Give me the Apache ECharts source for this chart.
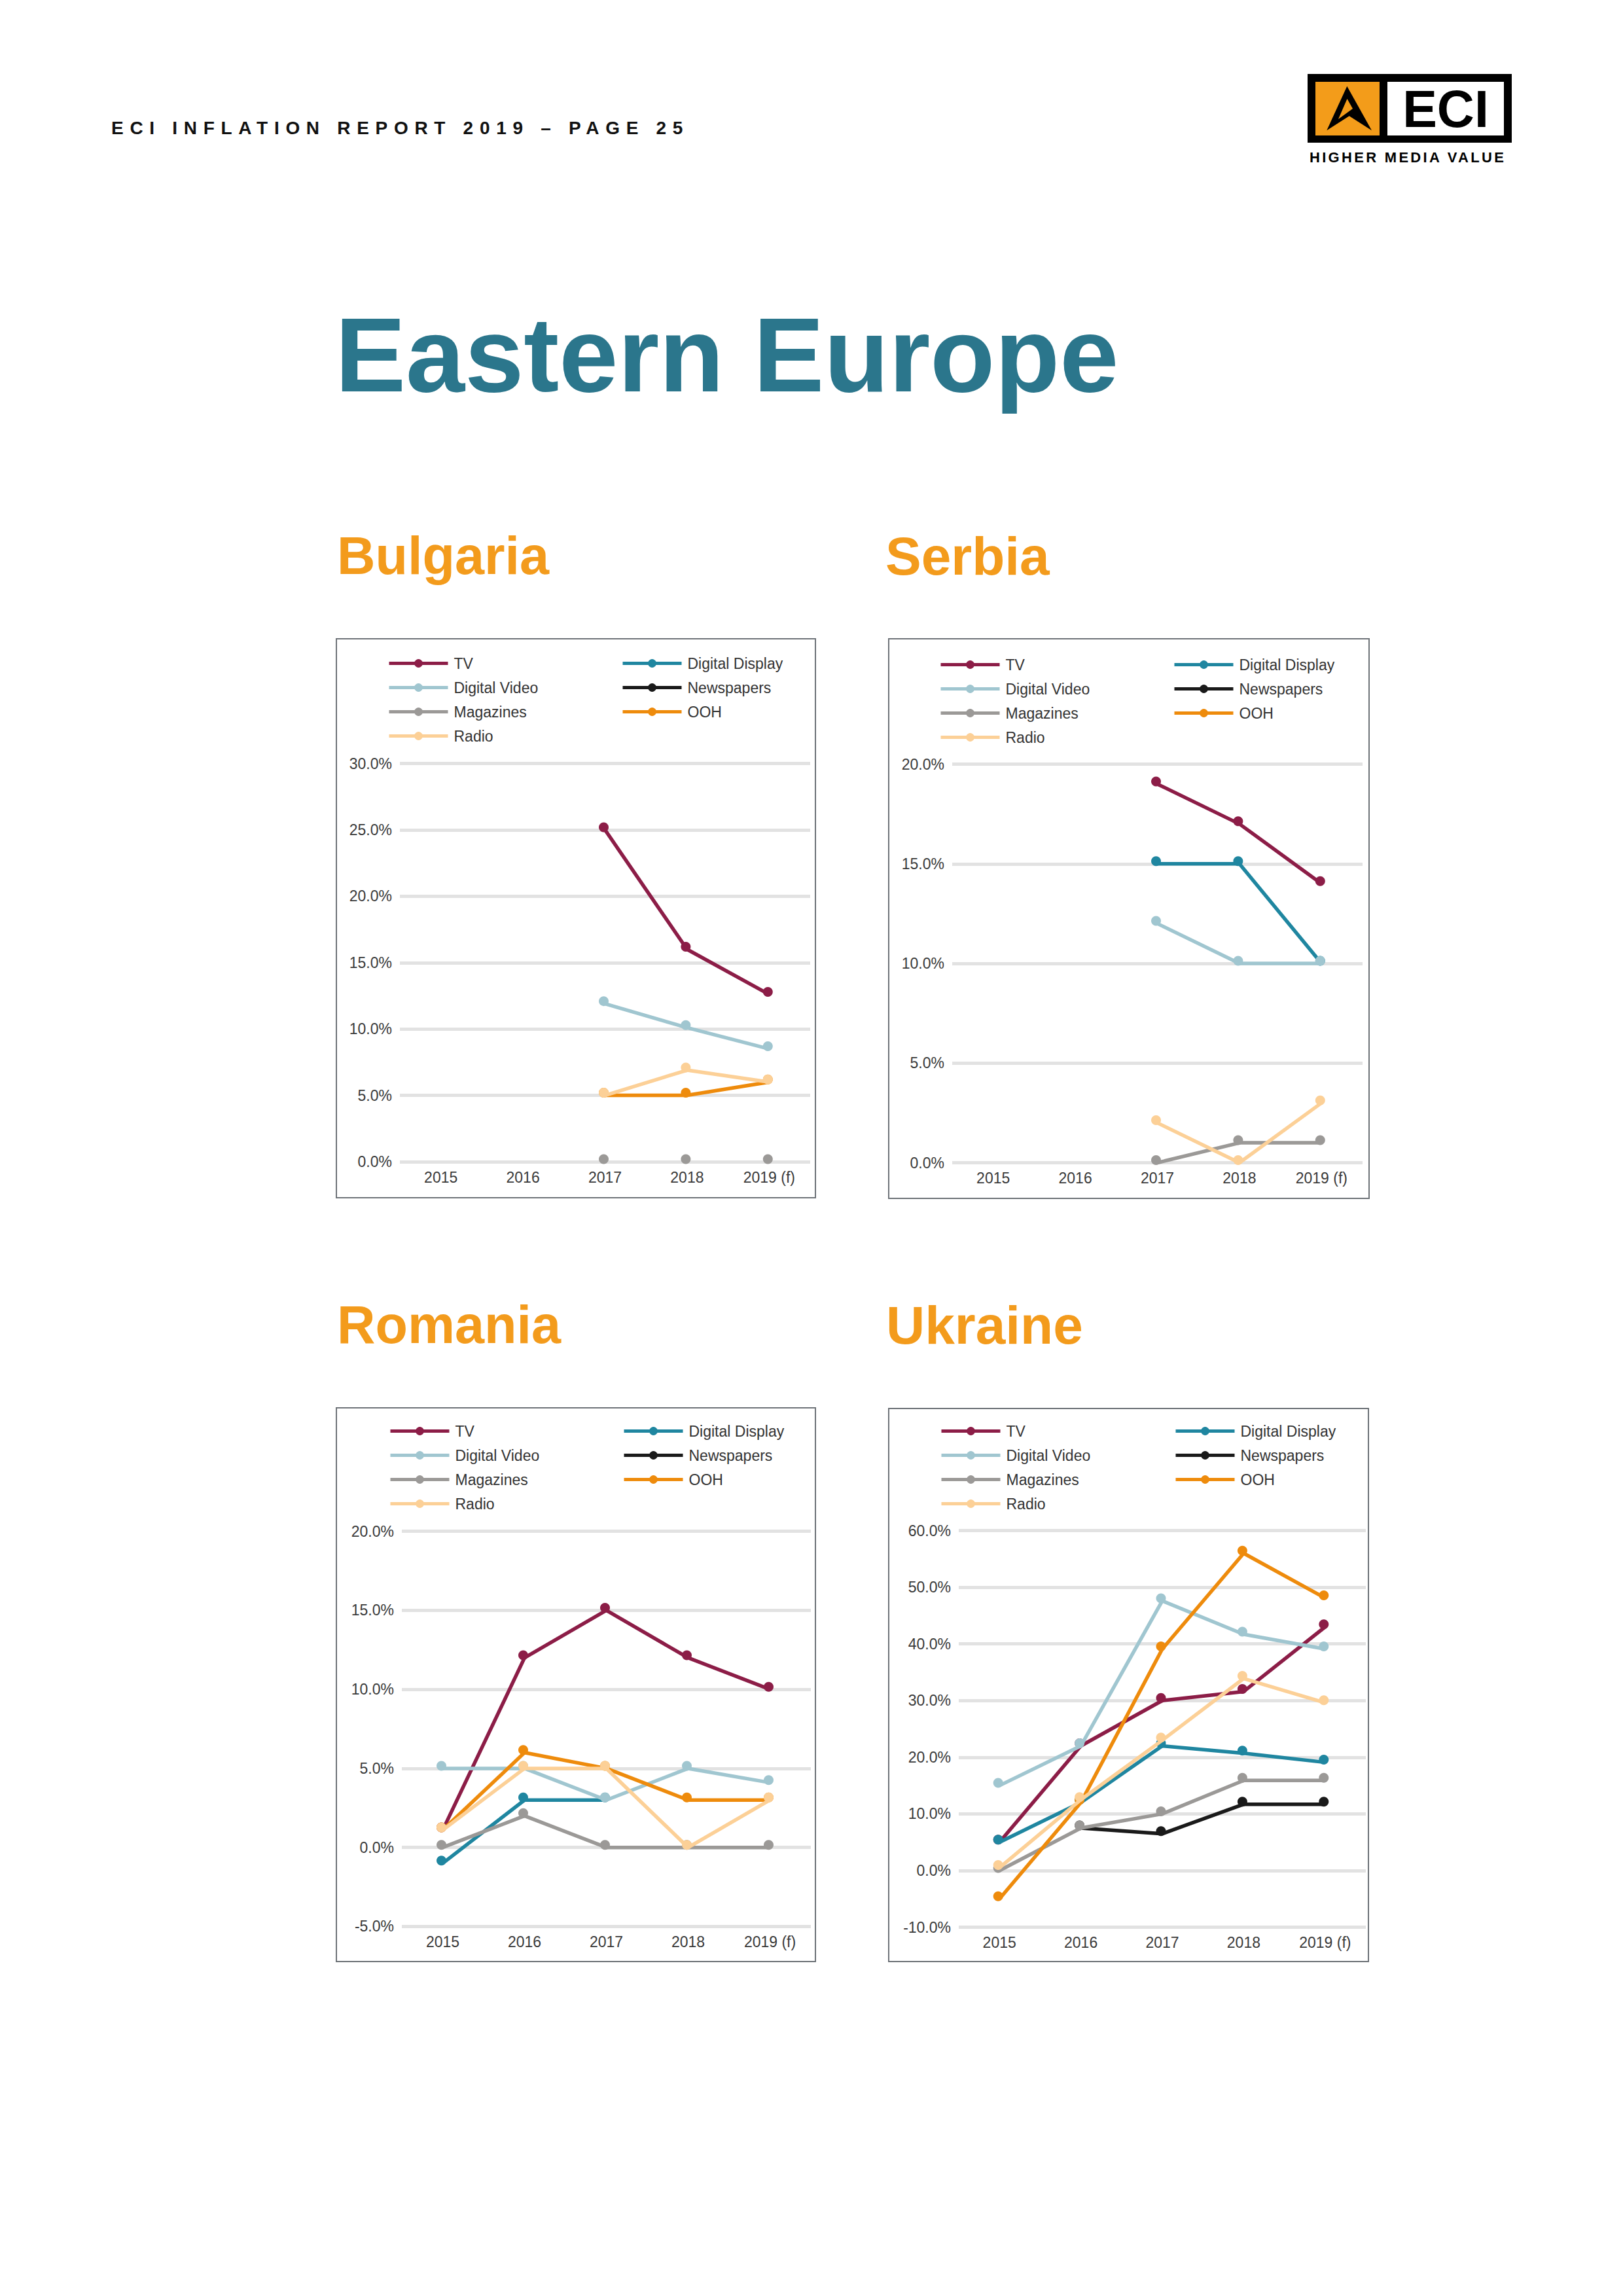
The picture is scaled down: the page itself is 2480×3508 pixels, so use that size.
<!DOCTYPE html>
<html>
<head>
<meta charset="utf-8">
<script src="https://cdn.jsdelivr.net/npm/echarts@6/dist/echarts.min.js"></script>
<style>
  html, body { margin: 0; padding: 0; background: #ffffff; }
  #page { position: relative; width: 2480px; height: 3508px; background: #ffffff; overflow: hidden; }
  #chart { position: absolute; left: 0; top: 0; width: 2480px; height: 3508px; }
  .txt { position: absolute; white-space: nowrap; font-family: 'Liberation Sans', Arial, sans-serif; font-weight: bold; line-height: 1; }
</style>
</head>
<body>
<div id="page">
  <div id="chart"></div>

  <div class="txt" style="left:170px;top:182px;font-size:28px;letter-spacing:9.7px;color:#111111;">ECI INFLATION REPORT 2019 – PAGE 25</div>

  <!-- logo -->
  <div style="position:absolute;left:1998px;top:113px;width:312px;height:105px;background:#000000;"></div>
  <div style="position:absolute;left:2010px;top:125px;width:98px;height:82px;background:#F39C1A;">
    <svg width="98" height="82" viewBox="0 0 98 82" style="position:absolute;left:0;top:0">
      <path fill="#000000" fill-rule="evenodd" d="M48.3 6.7 L86 74.3 L51.7 52.3 L17.3 74.3 Z M48.5 26 L57 41 L35 57 Z"/>
    </svg>
  </div>
  <div style="position:absolute;left:2120px;top:125px;width:178px;height:82px;background:#ffffff;"></div>
  <div class="txt" style="left:2120px;width:178px;text-align:center;top:127px;font-size:79px;color:#000000;">ECI</div>
  <div class="txt" style="left:2001px;top:230px;font-size:22px;letter-spacing:3.3px;color:#000000;">HIGHER MEDIA VALUE</div>

  <div class="txt" style="left:512px;top:461px;font-size:162px;color:#2B768C;">Eastern Europe</div>

  <div class="txt" style="left:515px;top:809px;font-size:81px;color:#F39B1C;">Bulgaria</div>
  <div class="txt" style="left:1353px;top:809px;font-size:82px;color:#F39B1C;">Serbia</div>
  <div class="txt" style="left:515px;top:1984px;font-size:81px;color:#F39B1C;">Romania</div>
  <div class="txt" style="left:1354px;top:1984px;font-size:82px;color:#F39B1C;">Ukraine</div>
</div>

<script>
// ---------------- DATA ----------------
const years = ['2015', '2016', '2017', '2018', '2019 (f)'];
const mediaNames = ['TV', 'Digital Display', 'Digital Video', 'Newspapers', 'Magazines', 'OOH', 'Radio'];

// Bulgaria (%)
const bgTV             = [null, null, 25.0, 16.0, 12.6];
const bgDigitalDisplay = [null, null, null, null, null];
const bgDigitalVideo   = [null, null, 11.9, 10.1, 8.5];
const bgNewspapers     = [null, null, null, null, null];
const bgMagazines      = [null, null, 0.0, 0.0, 0.0];
const bgOOH            = [null, null, 5.0, 5.0, 6.0];
const bgRadio          = [null, null, 5.0, 6.9, 6.0];

// Serbia (%)
const rsTV             = [null, null, 19.0, 17.0, 14.0];
const rsDigitalDisplay = [null, null, 15.0, 15.0, 10.0];
const rsDigitalVideo   = [null, null, 12.0, 10.0, 10.0];
const rsNewspapers     = [null, null, null, null, null];
const rsMagazines      = [null, null, 0.0, 1.0, 1.0];
const rsOOH            = [null, null, null, null, null];
const rsRadio          = [null, null, 2.0, 0.0, 3.0];

// Romania (%)
const roTV             = [1.1, 12.0, 15.0, 12.0, 10.0];
const roDigitalDisplay = [-1.0, 3.0, 3.0, null, null];
const roDigitalVideo   = [5.0, 5.0, 3.0, 5.0, 4.1];
const roNewspapers     = [null, null, null, null, null];
const roMagazines      = [0.0, 2.0, 0.0, 0.0, 0.0];
const roOOH            = [1.1, 6.0, 5.0, 3.0, 3.0];
const roRadio          = [1.1, 5.0, 5.0, 0.0, 3.0];

// Ukraine (%)
const uaTV             = [5.0, 22.0, 30.0, 31.6, 43.0];
const uaDigitalDisplay = [5.0, 12.0, 22.0, 20.7, 19.1];
const uaDigitalVideo   = [15.0, 22.0, 47.6, 41.7, 39.1];
const uaNewspapers     = [null, 7.5, 6.5, 11.7, 11.7];
const uaMagazines      = [0.0, 7.5, 10.0, 15.9, 15.9];
const uaOOH            = [-5.0, 12.0, 39.1, 56.0, 48.1];
const uaRadio          = [0.5, 12.5, 23.0, 33.9, 29.6];

// ---------------- STYLE / LAYOUT ----------------
const colors = {
  'TV': '#8C1D47',
  'Digital Display': '#1F86A0',
  'Digital Video': '#A0C6D0',
  'Newspapers': '#1A1A1A',
  'Magazines': '#9B9997',
  'OOH': '#EE8B0C',
  'Radio': '#FCD097'
};

const panels = [
  { frame: [514, 976, 732, 854], grid: { left: 611, top: 1166.5, width: 627, height: 608.5 },
    y: [0, 30, 5], legendTop: 1002, legendLeft: [592, 949], markersOnly: ['Magazines'],
    data: [bgTV, bgDigitalDisplay, bgDigitalVideo, bgNewspapers, bgMagazines, bgOOH, bgRadio] },
  { frame: [1358, 976, 734, 855], grid: { left: 1455, top: 1167.5, width: 627, height: 609 },
    y: [0, 20, 5], legendTop: 1004, legendLeft: [1435, 1792], markersOnly: [],
    data: [rsTV, rsDigitalDisplay, rsDigitalVideo, rsNewspapers, rsMagazines, rsOOH, rsRadio] },
  { frame: [514, 2151, 732, 846], grid: { left: 614, top: 2339.7, width: 625, height: 603.7 },
    y: [-5, 20, 5], legendTop: 2175, legendLeft: [594, 951], markersOnly: [],
    data: [roTV, roDigitalDisplay, roDigitalVideo, roNewspapers, roMagazines, roOOH, roRadio] },
  { frame: [1358, 2152, 733, 845], grid: { left: 1465, top: 2338.6, width: 622, height: 605.9 },
    y: [-10, 60, 10], legendTop: 2175, legendLeft: [1436, 1794], markersOnly: [],
    data: [uaTV, uaDigitalDisplay, uaDigitalVideo, uaNewspapers, uaMagazines, uaOOH, uaRadio] }
];

const leftLegendNames = ['TV', 'Digital Video', 'Magazines', 'Radio'];
const rightLegendNames = ['Digital Display', 'Newspapers', 'OOH'];
const FONT = "'Liberation Sans', Arial, sans-serif";

const option = {
  animation: false,
  backgroundColor: 'transparent',
  grid: [], xAxis: [], yAxis: [], series: [], legend: [], graphic: []
};

panels.forEach((p, i) => {
  option.grid.push({ left: p.grid.left, top: p.grid.top, width: p.grid.width, height: p.grid.height, containLabel: false });
  option.xAxis.push({
    type: 'category', gridIndex: i, data: years, boundaryGap: true,
    axisLine: { show: false }, axisTick: { show: false },
    axisLabel: { color: '#3a3a3a', fontSize: 23, fontFamily: FONT, margin: 12 },
    splitLine: { show: false }
  });
  option.yAxis.push({
    type: 'value', gridIndex: i, min: p.y[0], max: p.y[1], interval: p.y[2],
    axisLine: { show: false }, axisTick: { show: false },
    axisLabel: { color: '#3a3a3a', fontSize: 23, fontFamily: FONT, margin: 12,
      formatter: v => v.toFixed(1) + '%' },
    splitLine: { show: true, lineStyle: { color: '#E2E2E2', width: 5 } }
  });
  mediaNames.forEach((name, k) => {
    const hideLine = p.markersOnly.indexOf(name) >= 0;
    option.series.push({
      type: 'line', name: name, xAxisIndex: i, yAxisIndex: i,
      data: p.data[k], connectNulls: false,
      symbol: 'circle', symbolSize: 15, symbolOffset: [-2, -4],
      showSymbol: true, showAllSymbol: true,
      lineStyle: { color: colors[name], width: 5.5, opacity: hideLine ? 0 : 1 },
      itemStyle: { color: colors[name] },
      emphasis: { disabled: true },
      z: 3 + k
    });
  });
  const legendBase = {
    orient: 'vertical', top: p.legendTop, padding: 0, itemWidth: 90, itemHeight: 16, itemGap: 14,
    selectedMode: false,
    lineStyle: { width: 5, opacity: 1 },
    textStyle: { fontSize: 23, color: '#333333', fontFamily: FONT, padding: [0, 0, 0, 4] }
  };
  option.legend.push(Object.assign({}, legendBase, { left: p.legendLeft[0], data: leftLegendNames }));
  option.legend.push(Object.assign({}, legendBase, { left: p.legendLeft[1], data: rightLegendNames }));
  option.graphic.push({
    type: 'rect', silent: true, z: 0,
    shape: { x: p.frame[0], y: p.frame[1], width: p.frame[2], height: p.frame[3] },
    style: { fill: 'none', stroke: '#6E7378', lineWidth: 2 }
  });
});

const chart = echarts.init(document.getElementById('chart'), null, { renderer: 'svg', width: 2480, height: 3508 });
chart.setOption(option);
</script>
</body>
</html>
